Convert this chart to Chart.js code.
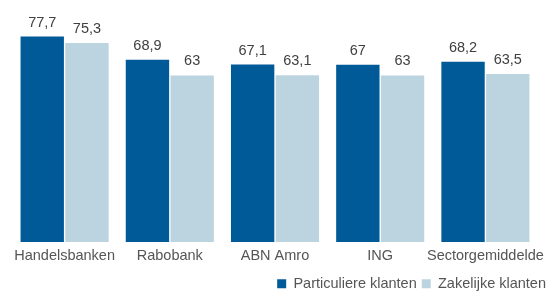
<!DOCTYPE html>
<html lang="nl">
<head>
    <meta charset="UTF-8">
    <title>Klanttevredenheid banken</title>
    <script src="https://cdn.jsdelivr.net/npm/chart.js"></script>
    <style>
        html, body { margin: 0; padding: 0; background: #fff; }
        #wrap { width: 548px; height: 292px; }
    </style>
</head>
<body>
    <div id="wrap"><canvas id="bankChart"></canvas></div>
    <script>
        const banks = ['Handelsbanken', 'Rabobank', 'ABN Amro', 'ING', 'Sectorgemiddelde'];
        const particulier = [77.7, 68.9, 67.1, 67, 68.2];
        const zakelijk = [75.3, 63, 63.1, 63, 63.5];

        const FONT = '"Liberation Sans", Arial, sans-serif';

        // values above the bars, with a decimal comma
        const valueLabels = {
            id: 'valueLabels',
            afterDatasetsDraw(chart) {
                const ctx = chart.ctx;
                ctx.save();
                ctx.font = '14.5px ' + FONT;
                ctx.fillStyle = '#404040';
                ctx.textAlign = 'center';
                ctx.textBaseline = 'alphabetic';
                chart.data.datasets.forEach((ds, i) => {
                    chart.getDatasetMeta(i).data.forEach((bar, j) => {
                        ctx.fillText(String(ds.data[j]).replace('.', ','), bar.x, bar.y - 10);
                    });
                });
                ctx.restore();
            }
        };

        // push the legend a bit further to the right edge
        const legendShift = {
            id: 'legendShift',
            afterLayout(chart) {
                chart.legend.left += 13;
                chart.legend.right += 13;
            }
        };

        new Chart(document.getElementById('bankChart'), {
            type: 'bar',
            data: {
                labels: banks,
                datasets: [{
                    label: 'Particuliere klanten',
                    data: particulier,
                    backgroundColor: '#005a98',
                    barPercentage: 0.97,
                    categoryPercentage: 0.85
                }, {
                    label: 'Zakelijke klanten',
                    data: zakelijk,
                    backgroundColor: '#bcd4e0',
                    barPercentage: 0.97,
                    categoryPercentage: 0.85
                }]
            },
            options: {
                responsive: true,
                maintainAspectRatio: false,
                animation: false,
                layout: { padding: { left: 12, right: 10, top: 4, bottom: -9 } },
                scales: {
                    x: {
                        grid: { display: false },
                        border: { display: false },
                        afterFit(scale) { scale.height += 10; },
                        ticks: {
                            color: '#555',
                            font: { size: 14.5, family: FONT },
                            maxRotation: 0,
                            autoSkip: false,
                            padding: -3
                        }
                    },
                    y: {
                        display: false,
                        min: 0,
                        max: 90
                    }
                },
                plugins: {
                    legend: {
                        position: 'bottom',
                        align: 'end',
                        labels: {
                            boxWidth: 9,
                            boxHeight: 9,
                            padding: 5,
                            color: '#555',
                            font: { size: 14.5, family: FONT }
                        }
                    },
                    tooltip: { enabled: false }
                }
            },
            plugins: [valueLabels, legendShift]
        });
    </script>
</body>
</html>
